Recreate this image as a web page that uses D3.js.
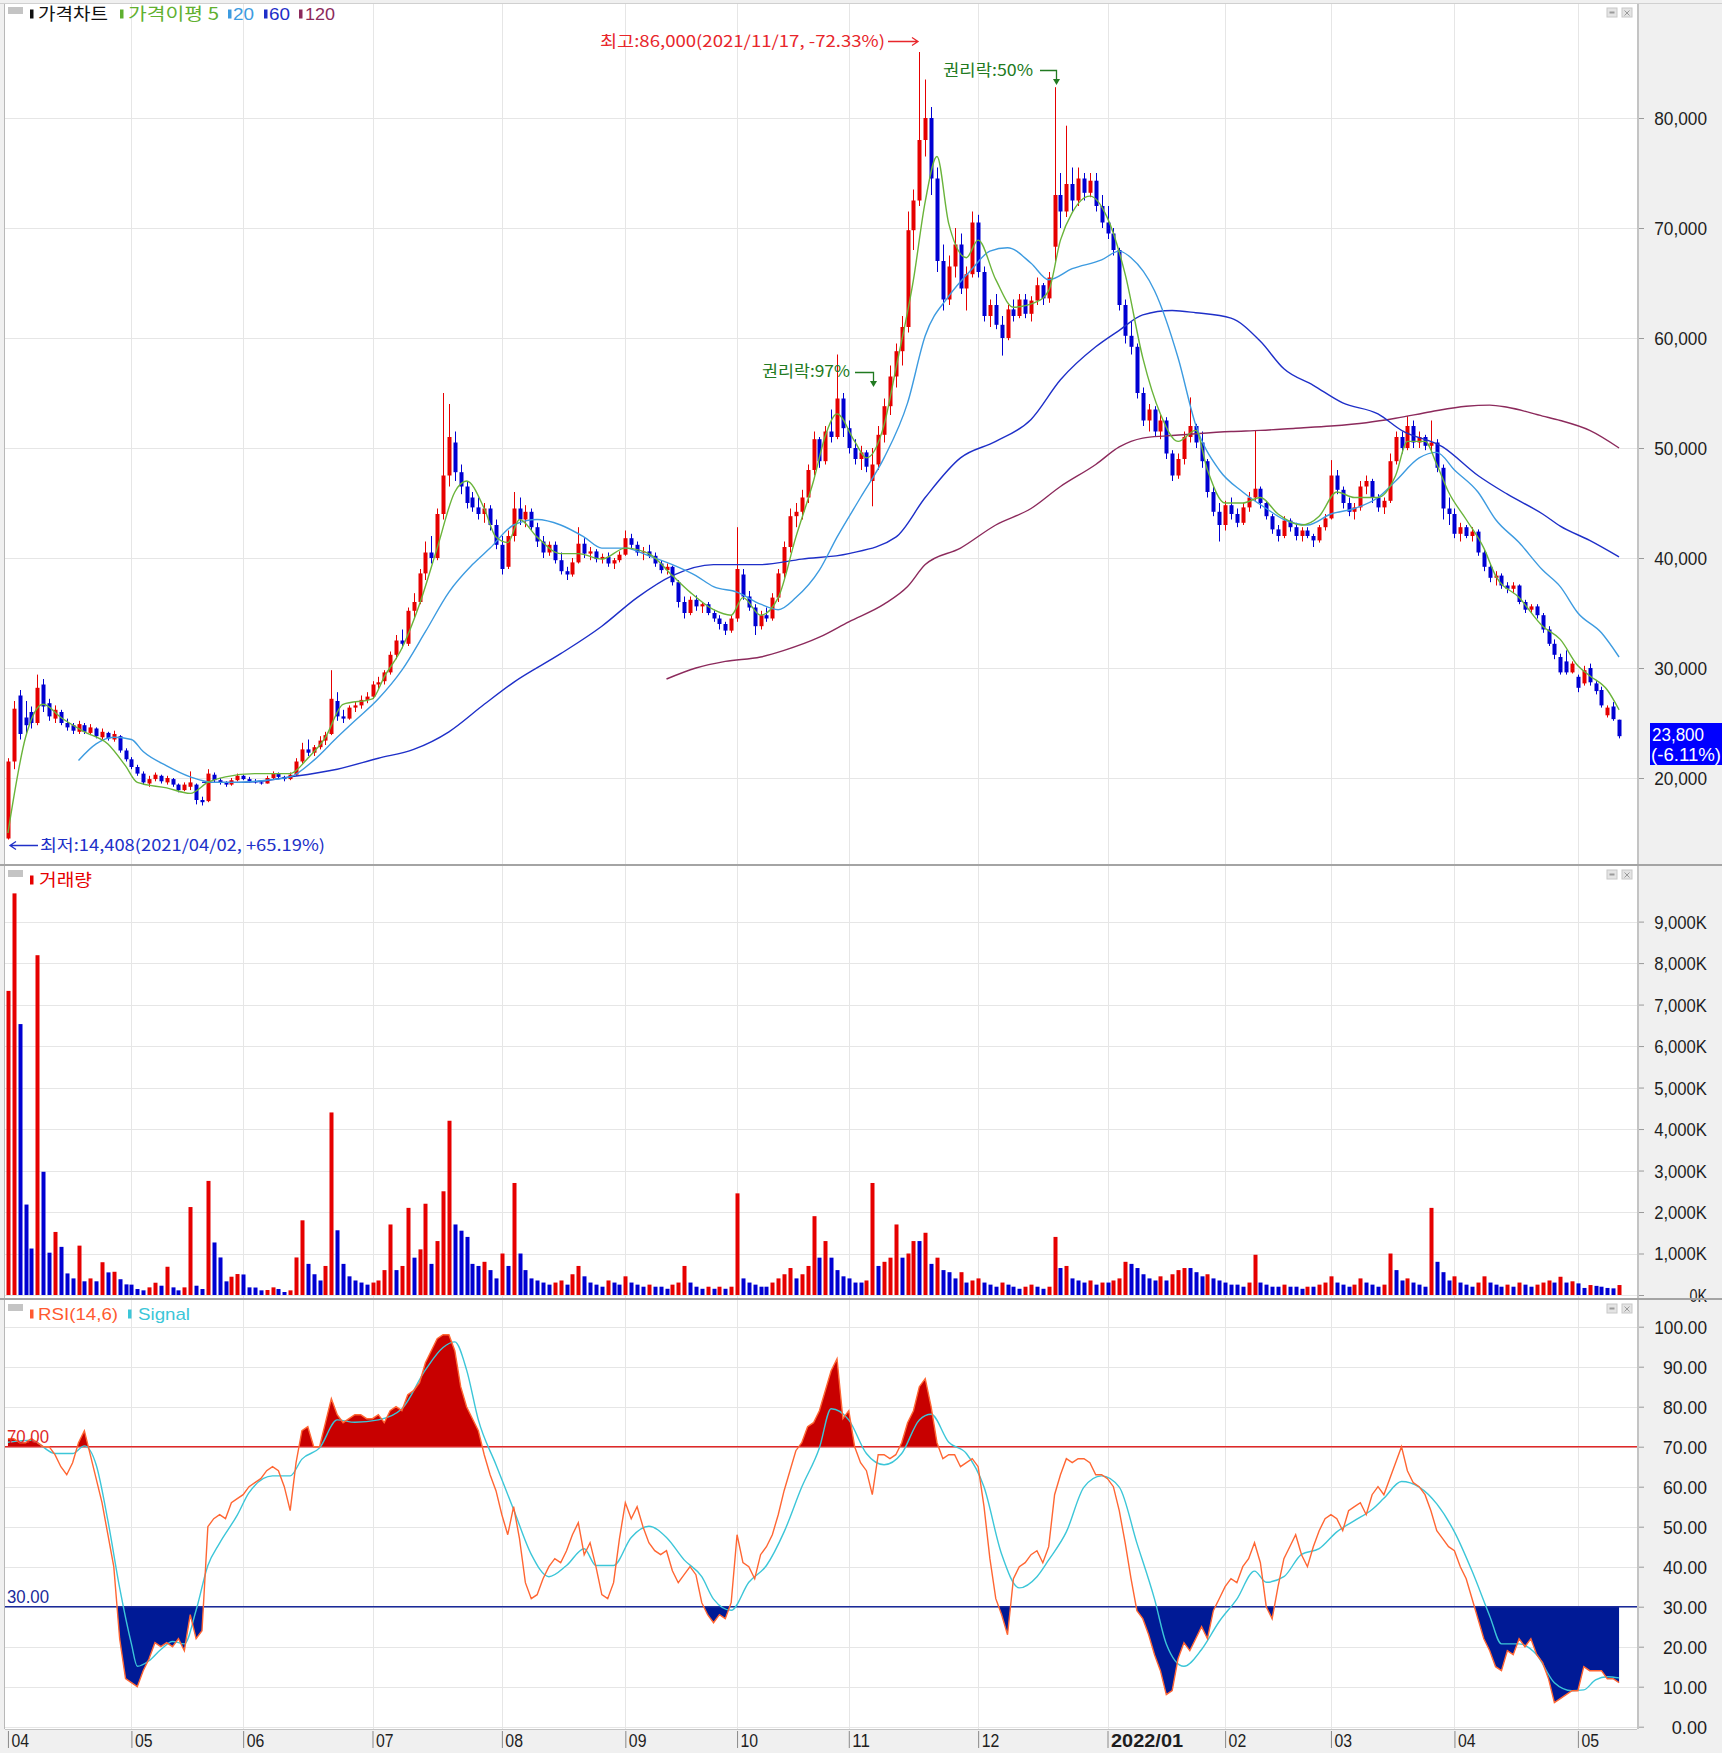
<!DOCTYPE html>
<html><head><meta charset="utf-8">
<script src="https://cdn.jsdelivr.net/npm/d3@7"></script>
<style>body{margin:0;background:#f0f0f0;}svg{display:block;}</style>
</head><body>
<svg id="chart" width="1722" height="1753"></svg>
<script>
// ---------------- DATA ----------------
const monthLabels = ["04","05","06","07","08","09","10","11","12","2022/01","02","03","04","05"];
const monthStartIdx = [0,21,40,62,84,105,124,143,165,187,207,225,246,267];
const priceTicks = [20000,30000,40000,50000,60000,70000,80000];
const volumeTicksK = [0,1000,2000,3000,4000,5000,6000,7000,8000,9000];
const rsiTicks = [0,10,20,30,40,50,60,70,80,90,100];

const opens = [
14500,21500,27500,25500,26000,25000,28500,26800,25400,26000,25000,24800,24200,24800,24100,24500,23700,24100,23500,23800,22500,
21700,21000,20400,19500,19900,20200,19600,19900,19400,18900,19200,19400,18000,17900,20300,19800,19600,19400,19800,
20200,19900,19700,19600,19500,20000,20400,20100,19900,20300,21500,22600,22300,22800,23400,24000,27000,25600,25400,26400,26600,27100,
27400,28500,28800,29600,31200,32500,32200,35200,36000,38600,40500,40000,44000,47500,50500,47800,46500,45500,44600,44000,44500,43000,
41200,39200,42000,44500,43500,44200,42800,41500,40500,41200,39800,38800,38500,39600,41300,40400,40600,39900,40100,39500,39800,
40300,41800,41200,40500,40600,40200,39500,38900,39200,37800,36000,35000,36200,35600,35800,35000,34500,34000,33400,
34500,38500,36500,35500,33800,34800,34500,36400,38600,41000,43800,44200,45500,48000,50800,48800,51500,51000,54500,
51800,50000,49000,49600,47000,48500,51200,53800,56500,58800,61000,69800,72500,78000,80000,74500,67000,63500,66500,68500,64500,65800,
70500,66000,62000,63000,61200,60000,62600,62000,63500,62200,63400,64800,63600,68300,73000,71500,74000,72500,74500,73200,74300,72000,
70500,69500,68000,63000,60200,59200,55000,52500,53500,51500,52500,49500,47500,49000,51000,52000,50500,48800,46000,44200,
43000,44800,44000,43200,44600,45500,46300,45000,43800,42600,42000,43400,42800,42000,42500,42000,41600,42800,
43600,47500,46200,45000,44200,44600,46500,47000,45500,44600,45200,48800,51000,50000,52000,50500,51000,50200,50500,48200,44500,
44000,42200,42800,42000,42400,40500,39200,38200,38400,37500,37200,37500,36000,35300,35600,34800,33500,32200,31000,30600,29600,
29200,28600,30000,28600,28000,25700,26500,25300];
const highs = [
21800,27000,28000,27000,26500,29400,29000,27200,26600,26200,25400,25000,25200,25000,24900,24600,24500,24200,24300,23900,22700,
21900,21200,20600,20200,20500,20300,20200,20000,19500,19600,20600,19500,18300,20800,20500,20000,19700,20000,20400,
20300,20100,19900,19800,20200,20600,20500,20200,20500,21800,23200,23500,23000,23800,24200,29800,27800,26200,26600,27000,27500,27800,
28800,29200,29800,31500,33000,33500,35500,36800,39000,41500,42000,44500,55000,54000,51500,48500,47000,46000,45500,45000,44800,43500,
42000,42500,46000,45500,44800,44500,43200,42000,41500,41500,40500,39200,40000,42800,41800,41000,40800,40400,40500,40000,40600,
42500,42200,41500,41000,41200,40500,39800,39500,39300,38000,36500,36500,36600,36000,36000,35300,34800,34200,34800,
42800,39000,37000,35800,35200,35500,36800,39000,41500,44500,45000,46200,48500,51500,51000,52000,53500,58500,55000,
52500,50800,50200,49800,50000,52000,54500,57500,59500,62000,71500,73500,86000,83500,81000,75500,68500,67500,70000,69500,66500,71500,
71200,66500,63500,64000,62000,63000,63500,64000,64000,63800,65500,65000,66000,82800,75000,79300,75500,75500,75000,75000,75000,73000,
72000,70000,68200,63500,61500,59500,55500,54000,53800,53000,52800,49800,49500,51500,54600,52200,51500,49000,46500,45000,
45200,45500,44500,45000,46000,51600,46500,45200,44000,43000,43800,43600,43200,42800,42800,42200,43000,44000,
48900,48000,46500,45500,45000,47000,47500,47200,45800,45500,49500,51500,51500,52900,52500,51500,51200,52500,50800,48500,45500,
44500,43200,43000,42800,42600,40800,39500,38800,38600,37800,37800,37600,36200,35800,35800,35000,33800,32600,31300,31600,30600,
29400,30200,30400,28800,28300,26600,26900,25300];
const lows = [
14408,20800,23500,24000,24500,24800,26000,25200,25000,24800,24300,24000,24000,24000,23900,23600,23500,23400,23300,22300,21500,
20800,20200,19400,19200,19700,19500,19400,19200,18700,18800,18900,17600,17500,17800,19600,19400,19200,19300,19700,
19800,19600,19500,19400,19500,19900,19900,19700,19800,20200,21300,22000,22000,22600,23000,23900,25200,25000,25300,26000,26300,26800,
27200,28000,28500,29400,30800,31800,32000,34500,35800,38000,39500,39800,43500,46500,47000,45800,44500,44200,43500,43200,42500,40800,
38500,39000,41500,43000,42800,42500,41000,40000,40200,39500,38500,38000,38300,39500,40000,39800,39600,39500,39200,39000,39600,
40200,40800,40200,39800,40000,39200,38600,38500,37500,35500,34500,34800,35200,35000,34800,34200,33500,33000,33200,
34200,36200,35200,33000,33500,34200,34300,36000,38200,40500,42800,43500,45000,47500,48200,48500,50500,50800,51000,
49500,48500,48000,47800,44700,48000,50500,53000,55500,57500,60500,68000,72000,76500,73000,66000,62500,63000,65500,64000,62500,65500,
65500,61500,61000,60800,58400,59800,61500,61800,61800,61500,63000,63000,63200,67000,70000,71000,71500,72000,72500,72800,71500,70000,
69000,67500,62500,59500,58500,54500,52000,51500,51000,50800,49000,47000,47200,48500,50500,50000,48200,45500,43800,41500,
42500,43500,42800,43000,44200,45200,44500,43500,42200,41500,41800,42400,41600,41500,41800,41000,41400,42500,
43500,45800,44500,43800,43500,44300,45800,45000,44200,44000,45000,48500,49500,49800,50000,50000,49800,49600,47800,43500,43000,
41800,41500,41800,41500,40200,38800,37800,37500,37200,36800,36800,35800,35000,35000,34500,33200,32000,30800,29400,29400,29500,
27800,28400,28400,27600,26400,25500,25200,23600];
const closes = [
21500,26300,24000,24800,25000,28200,26500,25600,26200,25000,24600,24300,24900,24200,24600,23800,24200,23600,24000,22500,21700,
21000,20400,19600,19900,20300,19700,20000,19400,18900,19400,19600,18000,17800,20400,19800,19600,19400,19800,20200,
19900,19700,19600,19500,20000,20400,20100,19900,20300,21500,22600,22300,22800,23400,23900,27200,25600,25400,26400,26600,27100,27400,
28500,28700,29600,31200,32500,32200,35200,36000,38600,40500,40000,44000,47500,51000,47800,46500,45000,44600,44000,44500,43000,41200,
39000,42000,44500,43500,44200,42800,41500,40500,41200,39800,38800,38500,39600,41300,40400,40600,39900,40100,39500,39800,40300,
41800,41200,40500,40600,40200,39500,38900,39200,37800,36000,35000,36200,35600,35800,35000,34500,34000,33400,34500,
39000,36500,35500,33800,34800,34500,36400,38600,41000,43800,44200,45500,48000,50800,48800,51500,51000,54500,51800,
50000,49000,49600,48300,48500,51200,53800,56500,58800,61000,69800,72500,78000,80000,74500,67000,63500,66500,68500,64500,65800,70500,
66000,62000,63000,61200,60000,62600,62000,63500,62200,63400,64800,63600,65500,73000,71500,74000,72500,74500,73200,74300,72000,70500,
69500,68000,63000,60200,59200,55000,52500,53500,51500,52500,49500,47500,49000,51000,52000,50500,48800,46000,44200,43000,
44800,44000,43200,44600,45500,46300,45000,43800,42600,42000,43400,42800,42000,42500,42000,41600,42800,43600,
47500,46200,45000,44200,44600,46500,47000,45500,44600,45200,48800,51000,50000,52000,50500,51000,50200,50500,48200,44500,44000,
42200,42800,42000,42400,40500,39200,38200,38400,37500,37200,37500,36000,35300,35600,34800,33500,32200,31200,29600,29600,30400,
28200,29800,28700,27900,26600,26400,25350,23800];

// volume in thousands of shares
const volumesK = [
7330,9680,6530,2180,1120,8190,2970,1020,1520,1160,520,400,1190,330,400,330,790,545,560,380,
256,250,144,112,184,296,224,681,184,112,184,2120,224,144,2750,1266,905,329,441,505,
495,184,180,112,120,184,144,72,112,905,1800,750,500,350,700,4400,1560,750,450,350,300,250,
300,350,600,1700,600,700,2100,900,1100,2200,750,1300,2500,4200,1700,1550,1400,750,700,800,600,400,
1000,700,2700,1000,600,400,350,300,250,300,350,250,500,700,450,300,250,200,350,300,250,
450,300,250,200,250,200,200,150,250,300,700,300,200,150,200,150,200,150,200,
2450,400,300,250,200,200,300,400,500,650,400,500,700,1900,900,1300,900,600,450,
400,300,300,350,2700,700,800,900,1700,900,1000,1300,1300,1500,750,900,600,550,400,550,300,350,
400,300,250,200,300,250,200,150,200,250,200,150,200,1400,650,700,400,350,300,350,250,300,
300,350,400,800,750,650,500,400,350,450,350,500,600,650,650,550,450,500,400,350,
300,250,250,200,300,970,300,250,200,200,250,200,200,150,200,200,250,300,
450,300,250,200,250,400,300,250,200,250,1000,600,350,400,300,250,200,2100,800,550,350,
450,300,250,200,300,450,300,250,200,250,200,300,250,200,250,300,350,300,440,300,330,
280,170,240,220,200,170,160,240];

// moving averages (day index, value in thousand won)
const ma5Days = [0,3,6,9,13,17,20,22,27,31,34,37,42,48,51,54,57,62,64,67,70,73,76,78,81,83,85,87,90,94,97,101,105,109,113,116,120,123,125,128,131,134,137,139,141,144,146,149,151,154,156,158,160,163,165,168,171,175,177,179,181,184,187,190,193,196,199,202,204,207,210,213,216,220,223,226,229,233,236,238,241,243,245,248,251,253,257,261,264,267,269,272,274];
const ma5K = [15.0,23.7,26.7,25.5,24.2,23.1,21.1,19.6,19.1,18.6,19.6,20.1,20.4,20.4,21.8,23.7,26.7,27.2,29.2,31.8,35.8,40.9,46.0,47.0,44.5,41.9,41.4,43.5,41.9,40.4,40.4,39.9,40.9,40.4,38.4,36.9,35.3,34.8,36.4,34.8,36.4,41.9,47.0,51.1,53.1,50.6,49.1,52.1,57.2,65.3,72.4,76.5,70.4,67.3,68.9,65.3,62.8,63.3,64.3,68.9,71.4,72.9,70.9,65.8,58.2,53.1,50.6,51.6,48.0,45.0,45.0,45.5,44.0,43.0,43.8,46.0,45.5,45.5,47.5,50.6,50.6,48.5,46.0,43.5,40.9,38.4,36.4,33.8,32.6,30.2,29.3,28.0,26.2];
const ma20Days = [12,15,18,21,23,27,31,35,39,44,48,52,56,59,63,67,71,75,79,82,86,90,94,98,101,105,109,113,117,120,124,128,131,134,138,141,145,149,153,156,160,164,167,170,174,177,181,186,189,191,195,199,202,206,210,214,217,221,225,229,233,236,240,243,246,250,253,257,261,264,267,271,274];
const ma20K = [21.6,23.1,23.7,23.5,22.4,21.1,20.1,19.6,19.6,19.8,20.1,21.6,23.7,25.2,27.2,29.8,33.3,36.9,39.4,40.9,43.0,43.5,43.0,41.9,40.9,40.9,40.2,39.4,38.4,37.4,36.9,35.8,35.3,36.4,38.9,41.9,45.5,49.1,54.1,60.2,63.8,66.3,67.9,68.2,66.8,65.3,66.3,67.1,67.9,67.3,64.3,58.2,52.1,48.0,46.0,44.5,43.5,43.0,44.0,44.5,45.5,47.0,49.1,49.6,48.0,46.0,43.5,41.4,38.9,37.4,35.0,33.2,31.0];
const ma60Days = [33,40,48,56,63,69,75,81,86,94,101,107,113,120,128,135,143,151,156,162,168,174,179,185,189,193,198,202,208,213,217,222,227,233,237,244,250,255,261,264,269,274];
const ma60K = [19.6,19.6,20.1,20.8,21.8,22.6,24.2,26.7,28.7,31.3,33.8,36.4,38.4,39.4,39.4,39.9,40.4,41.9,45.5,49.1,50.6,52.6,56.2,59.2,60.7,62.1,62.5,62.3,61.8,59.7,57.2,55.7,54.1,53.1,51.6,50.1,47.5,45.8,44.0,42.9,41.6,40.1];
const ma120Days = [112,117,122,128,132,138,143,149,153,156,162,168,174,179,185,189,193,197,202,208,213,219,225,231,236,242,248,252,255,261,264,269,274];
const ma120K = [29.0,30.0,30.6,31.0,31.6,32.8,34.2,35.8,37.4,39.4,40.9,43.0,44.5,46.5,48.5,50.1,50.9,51.1,51.3,51.5,51.6,51.8,52.0,52.3,52.7,53.3,53.8,53.9,53.7,52.9,52.5,51.6,50.0];

// RSI(14) per day and its signal
const rsiValues = [
72,72,71,71,72,71,70,70,68,65,63,66,71,74,68,62,56,48,40,22,12,
11,10,14,17,21,20,21,20,22,19,28,22,24,50,52,53,52,56,57,
58,60,61,62,64,65,64,60,54,66,74,75,70,70,76,82,78,76,77,78,78,77,
77,78,76,79,80,79,83,84,86,91,94,97,98,98,94,85,80,77,74,68,63,59,
53,48,55,47,36,32,33,37,40,42,41,44,48,51,43,46,40,33,32,36,47,
56,52,55,50,46,44,43,44,39,36,38,40,38,31,28,26,28,27,31,
48,41,40,37,43,45,48,53,59,64,69,71,75,76,79,84,89,92,77,
79,70,66,64,58,68,68,67,68,71,76,79,85,87,80,71,67,68,68,65,66,67,
65,55,42,32,28,23,37,40,41,43,44,41,45,58,63,67,66,67,67,66,63,63,
62,60,54,46,37,29,27,23,18,14,8,9,17,21,19,22,25,22,29,32,
35,37,36,40,42,46,41,30,27,35,42,45,48,43,40,45,49,52,
53,52,49,54,55,56,53,58,60,58,62,66,70,64,61,60,58,54,49,47,45,
44,40,37,32,27,22,19,15,14,19,18,22,20,22,18,16,12,6,7,8,9,
9,15,14,14,14,12,12,11];
const signalDays = [0,4,8,11,13,15,17,19,21,22,24,26,28,30,32,34,36,39,41,45,48,50,53,56,59,63,67,71,74,76,78,80,83,86,89,92,95,98,100,103,106,109,112,115,118,120,123,126,129,132,135,138,140,143,146,149,152,155,157,160,163,166,169,172,175,177,180,183,186,189,192,195,197,200,203,206,209,212,214,217,220,223,226,229,232,234,237,240,243,246,249,252,254,257,260,263,266,268,270,272,274];
const signalValues = [71.1,71.6,68.3,68.3,70.2,65.5,51.5,34.7,20.7,15.1,16.5,19.3,21.3,20.7,29.1,40.3,45.9,52.9,58.5,62.7,62.7,66.9,69.7,76.7,76.1,76.7,79.5,89.2,94.8,96.2,89.2,76.7,65.5,54.3,43.1,37.5,40.3,44.5,40.3,40.3,47.3,50.1,47.3,41.7,37.5,31.9,29.1,36.1,40.3,48.7,59.9,69.7,79.5,76.7,68.3,65.5,68.3,76.7,78.1,71.1,68.3,59.9,43.1,34.7,37.5,41.7,48.7,59.9,62.7,59.9,45.9,31.9,20.7,15.1,19.3,26.3,31.9,38.9,36.1,37.5,43.1,44.5,48.7,51.5,54.3,57.1,61.3,59.9,55.7,48.7,38.9,27.7,20.7,20.7,18.0,11,9,9.2,11.7,12.5,12.2];
const rsiUpper = 70, rsiLower = 30;

// ---------------- DRAW ----------------
const W = 1722, H = 1753, L = 5, R = 1637;
const P1 = {top: 4, bottom: 864}, P2 = {top: 866, bottom: 1298}, P3 = {top: 1300, bottom: 1729};
const numFont = "'Liberation Sans Narrow','Arial Narrow','Liberation Sans',Arial,sans-serif";
const krFont = "'Noto Sans CJK KR','Noto Sans',sans-serif";
const UP = "#e60000", DOWN = "#0000d2";
const CHAR_W = 8.8;

const svg = d3.select("#chart");
const x = d3.scaleLinear().domain([-0.5, 277.05]).range([L, R]);
const yP = d3.scaleLinear().domain([20000, 80000]).range([778, 118]);
const yV = d3.scaleLinear().domain([0, 9000]).range([1295, 921.6]);
const yR = d3.scaleLinear().domain([0, 100]).range([1726.7, 1326.7]);

svg.append("rect").attr("width", W).attr("height", H).attr("fill", "#f0f0f0");
svg.append("rect").attr("x", L).attr("y", P1.top).attr("width", R - L).attr("height", P3.bottom - P1.top).attr("fill", "#fff");

const defs = svg.append("defs");
function clip(id, x0, y0, x1, y1) {
  defs.append("clipPath").attr("id", id).append("rect").attr("x", x0).attr("y", y0).attr("width", x1 - x0).attr("height", y1 - y0);
}
clip("cP", L, P1.top, R, P1.bottom);
clip("cV", L, P2.top, R, P2.bottom);
clip("cR", L, P3.top, R, P3.bottom);
clip("cHi", L, P3.top, R, yR(rsiUpper));
clip("cLo", L, yR(rsiLower), R, P3.bottom);

// grid
const grid = svg.append("g").attr("stroke", "#e6e6e6").attr("stroke-width", 1).attr("shape-rendering", "crispEdges");
monthStartIdx.slice(1).forEach(i => {
  [P1, P2, P3].forEach(p => grid.append("line").attr("x1", Math.round(x(i)) + .5).attr("x2", Math.round(x(i)) + .5).attr("y1", p.top).attr("y2", p.bottom));
});
priceTicks.forEach(v => grid.append("line").attr("x1", L).attr("x2", R).attr("y1", Math.round(yP(v)) + .5).attr("y2", Math.round(yP(v)) + .5));
volumeTicksK.forEach(v => grid.append("line").attr("x1", L).attr("x2", R).attr("y1", Math.round(yV(v)) + .5).attr("y2", Math.round(yV(v)) + .5));
rsiTicks.forEach(v => grid.append("line").attr("x1", L).attr("x2", R).attr("y1", Math.round(yR(v)) + .5).attr("y2", Math.round(yR(v)) + .5));

// right axes
function rightAxis(scale, ticks, fmt) {
  const g = svg.append("g").attr("transform", `translate(${R},0)`)
    .call(d3.axisRight(scale).tickValues(ticks).tickSize(7).tickFormat(fmt));
  g.select(".domain").remove();
  g.selectAll(".tick line").attr("stroke", "#9a9a9a");
  g.selectAll(".tick text").attr("x", 70).attr("text-anchor", "end").attr("dy", "0.34em")
    .attr("fill", "#1e1e1e").style("font-family", numFont).style("font-size", "19px")
    .attr("textLength", d => fmt(d).length * CHAR_W).attr("lengthAdjust", "spacingAndGlyphs");
}
rightAxis(yP, priceTicks, d3.format(","));
rightAxis(yV, volumeTicksK, d => d3.format(",")(d) + "K");
rightAxis(yR, rsiTicks, d3.format(".2f"));

// bottom axis
const bx = svg.append("g").attr("transform", `translate(0,${P3.bottom + 2})`)
  .call(d3.axisBottom(x).tickValues(monthStartIdx).tickSize(17).tickFormat((d, k) => monthLabels[k]));
bx.select(".domain").remove();
bx.selectAll(".tick line").attr("stroke", "#8a8a8a");
bx.selectAll(".tick text").attr("x", 3).attr("y", 16).attr("dy", "0").attr("text-anchor", "start")
  .attr("fill", "#1e1e1e").style("font-family", numFont).style("font-size", "18px")
  .style("font-weight", (d, k) => monthLabels[k].length > 2 ? "bold" : "normal")
  .attr("textLength", (d, k) => monthLabels[k].length * (monthLabels[k].length > 2 ? 10.3 : CHAR_W))
  .attr("lengthAdjust", "spacingAndGlyphs");

// borders
const borders = svg.append("g").attr("shape-rendering", "crispEdges");
borders.append("line").attr("x1", R + .5).attr("x2", R + .5).attr("y1", P1.top).attr("y2", P3.bottom).attr("stroke", "#c4c4c4").attr("stroke-width", 2);
borders.append("line").attr("x1", L - .5).attr("x2", L - .5).attr("y1", P1.top).attr("y2", P3.bottom).attr("stroke", "#b8b8b8");
borders.append("line").attr("x1", 0).attr("x2", W).attr("y1", P1.top - .5).attr("y2", P1.top - .5).attr("stroke", "#d0d0d0");
[P1.bottom + 1, P2.bottom + 1].forEach(yy => borders.append("line").attr("x1", 0).attr("x2", W).attr("y1", yy).attr("y2", yy).attr("stroke", "#a4a4a4").attr("stroke-width", 2));
borders.append("line").attr("x1", L).attr("x2", R).attr("y1", P3.bottom + .5).attr("y2", P3.bottom + .5).attr("stroke", "#c4c4c4");

// ---- price panel ----
const days = d3.range(closes.length);
const gP = svg.append("g").attr("clip-path", "url(#cP)");
const isUp = i => closes[i] >= opens[i];
gP.append("g").selectAll("line").data(days).join("line")
  .attr("x1", i => Math.round(x(i)) + .5).attr("x2", i => Math.round(x(i)) + .5)
  .attr("y1", i => yP(highs[i])).attr("y2", i => yP(lows[i]))
  .attr("stroke", i => isUp(i) ? UP : DOWN).attr("stroke-width", 1);
gP.append("g").selectAll("rect").data(days).join("rect")
  .attr("x", i => Math.round(x(i)) - 1.5).attr("width", 4)
  .attr("y", i => yP(Math.max(opens[i], closes[i])))
  .attr("height", i => Math.max(1, Math.abs(yP(opens[i]) - yP(closes[i]))))
  .attr("fill", i => isUp(i) ? UP : DOWN);

function maLine(daysArr, valsK, color) {
  const pts = daysArr.map((d, k) => [d, valsK[k] * 1000]);
  gP.append("path").datum(pts)
    .attr("d", d3.line().x(p => x(p[0])).y(p => yP(p[1])).curve(d3.curveMonotoneX))
    .attr("fill", "none").attr("stroke", color).attr("stroke-width", 1.4);
}
maLine(ma120Days, ma120K, "#8c2a5c");
maLine(ma60Days, ma60K, "#1e2fc8");
maLine(ma20Days, ma20K, "#3d9be0");
maLine(ma5Days, ma5K, "#6ab43a");

// ---- volume panel ----
const gV = svg.append("g").attr("clip-path", "url(#cV)");
gV.selectAll("rect").data(days).join("rect")
  .attr("x", i => Math.round(x(i)) - 1.5).attr("width", 4)
  .attr("y", i => yV(volumesK[i])).attr("height", i => yV(0) - yV(volumesK[i]))
  .attr("fill", i => (i === 0 || volumesK[i] > volumesK[i - 1]) ? UP : DOWN);

// ---- RSI panel ----
const gR = svg.append("g").attr("clip-path", "url(#cR)");
gR.append("path").datum(days).attr("clip-path", "url(#cHi)")
  .attr("d", d3.area().x(i => x(i)).y0(yR(rsiUpper)).y1(i => yR(rsiValues[i]))).attr("fill", "#c80000");
gR.append("path").datum(days).attr("clip-path", "url(#cLo)")
  .attr("d", d3.area().x(i => x(i)).y0(yR(rsiLower)).y1(i => yR(rsiValues[i]))).attr("fill", "#001a96");
gR.append("line").attr("x1", L).attr("x2", R).attr("y1", yR(rsiUpper)).attr("y2", yR(rsiUpper)).attr("stroke", "#e02828").attr("stroke-width", 1.5);
gR.append("line").attr("x1", L).attr("x2", R).attr("y1", yR(rsiLower)).attr("y2", yR(rsiLower)).attr("stroke", "#1a2a9a").attr("stroke-width", 1.5);
gR.append("path").datum(signalDays.map((d, k) => [d, signalValues[k]]))
  .attr("d", d3.line().x(p => x(p[0])).y(p => yR(p[1])).curve(d3.curveMonotoneX))
  .attr("fill", "none").attr("stroke", "#3cc6d8").attr("stroke-width", 1.4);
gR.append("path").datum(days)
  .attr("d", d3.line().x(i => x(i)).y(i => yR(rsiValues[i])))
  .attr("fill", "none").attr("stroke", "#ff6633").attr("stroke-width", 1.4);

function txt(s, x0, y0, color, size, len, family) {
  const t = svg.append("text").attr("x", x0).attr("y", y0).attr("dy", "0.36em").text(s)
    .attr("fill", color).style("font-family", family || krFont).style("font-size", size + "px");
  if (len) t.attr("textLength", len).attr("lengthAdjust", "spacingAndGlyphs");
  return t;
}
txt("70.00", 7, yR(rsiUpper) - 10, "#e02828", 18, 42, numFont);
txt("30.00", 7, yR(rsiLower) - 10, "#1a2a9a", 18, 42, numFont);

// ---- legends ----
function box(x0, y0) { svg.append("rect").attr("x", x0).attr("y", y0).attr("width", 15).attr("height", 7).attr("fill", "#c4c4c4"); }
function mark(x0, yc, c) { svg.append("rect").attr("x", x0).attr("y", yc - 4.5).attr("width", 3.5).attr("height", 9).attr("fill", c); }
box(8, 7);
mark(30, 14, "#111"); txt("가격차트", 38, 14, "#111", 17, 70);
mark(120, 14, "#5fb030"); txt("가격이평 5", 128, 14, "#5fb030", 17, 91);
mark(228, 14, "#3d9be0"); txt("20", 233, 14, "#3d9be0", 17, 21, numFont);
mark(264, 14, "#1e2fc8"); txt("60", 269, 14, "#1e2fc8", 17, 21, numFont);
mark(299, 14, "#8c2a5c"); txt("120", 305, 14, "#8c2a5c", 17, 30, numFont);
box(8, 870);
mark(30, 880, UP); txt("거래량", 39, 880, UP, 17, 53);
box(8, 1304);
mark(30, 1314, "#ff5a30"); txt("RSI(14,6)", 38, 1314, "#ff5a30", 17, 80, numFont);
mark(128, 1314, "#3cc6d8"); txt("Signal", 138, 1314, "#3cc6d8", 17, 52, numFont);

// panel corner icons
[P1.top, P2.top, P3.top].forEach(t => {
  [1607, 1622].forEach((ix, k) => {
    svg.append("rect").attr("x", ix).attr("y", t + 4).attr("width", 10).attr("height", 9).attr("fill", "#e4e4e4").attr("stroke", "#c8c8c8");
    if (k === 0) svg.append("rect").attr("x", ix + 2.5).attr("y", t + 7.5).attr("width", 5).attr("height", 2).attr("fill", "#9a9a9a");
    else svg.append("path").attr("d", `M${ix + 2.5},${t + 6.5}l5,5M${ix + 7.5},${t + 6.5}l-5,5`).attr("stroke", "#9a9a9a");
  });
});

// ---- annotations ----
const HI = "#e8262b", GR = "#217a21", LO = "#2030c8";
txt("최고:86,000(2021/11/17, -72.33%)", 600, 41, HI, 16, 285);
svg.append("path").attr("d", "M888,41.5H918M912,37.5L918,41.5L912,45.5").attr("fill", "none").attr("stroke", HI).attr("stroke-width", 1.3);
txt("권리락:50%", 943, 70, GR, 16, 90);
svg.append("path").attr("d", "M1040,70.5H1056.5V80").attr("fill", "none").attr("stroke", GR).attr("stroke-width", 1.3);
svg.append("path").attr("d", "M1053,79L1060,79L1056.5,85Z").attr("fill", GR);
txt("권리락:97%", 762, 371, GR, 16, 88);
svg.append("path").attr("d", "M855,372.5H873.5V382").attr("fill", "none").attr("stroke", GR).attr("stroke-width", 1.3);
svg.append("path").attr("d", "M870,381L877,381L873.5,387Z").attr("fill", GR);
txt("최저:14,408(2021/04/02, +65.19%)", 40, 845, LO, 16, 285);
svg.append("path").attr("d", "M38,845.5H10M16,841.5L10,845.5L16,849.5").attr("fill", "none").attr("stroke", LO).attr("stroke-width", 1.3);

// current price box
svg.append("rect").attr("x", 1650).attr("y", 723).attr("width", 72).attr("height", 42).attr("fill", "#0000ff");
txt("23,800", 1652, 735, "#fff", 18, 52, numFont);
txt("(-6.11%)", 1651, 755, "#fff", 18, 70, numFont);
</script>
</body></html>
